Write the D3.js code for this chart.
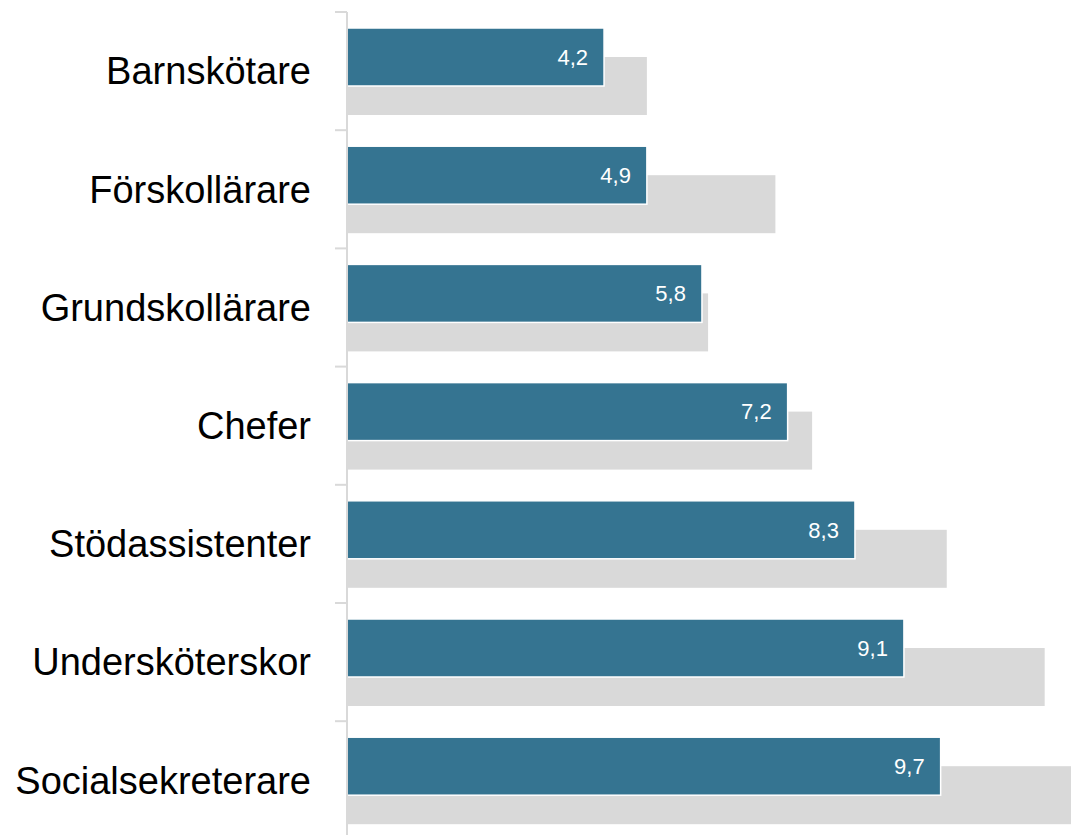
<!DOCTYPE html>
<html>
<head>
<meta charset="utf-8">
<script src="https://cdn.jsdelivr.net/npm/d3@7"></script>
<style>
  body { margin: 0; background: #fff; }
  svg { display: block; }
</style>
</head>
<body>
<svg id="chart"></svg>
<script>
const categories = ["Barnskötare", "Förskollärare", "Grundskollärare", "Chefer", "Stödassistenter", "Undersköterskor", "Socialsekreterare"];
const mainValues = [4.2, 4.9, 5.8, 7.2, 8.3, 9.1, 9.7];
const compareValues = [4.9, 7.0, 5.9, 7.6, 9.8, 11.4, 12.3];

const width = 1071, height = 835;
const axisX = 347;
const bandTop = 12, bandStep = 118.2;

const svg = d3.select("#chart")
    .attr("width", width)
    .attr("height", height);

let x = d3.scaleLinear()
    .domain([0, 10])
    .range([axisX, axisX + 612]);

let y = d3.scaleBand()
    .domain(categories)
    .range([bandTop, bandTop + bandStep * categories.length])
    .padding(0);

const barH = 58;

// grey comparison bars (behind, shifted down)
svg.append("g")
    .selectAll("rect")
    .data(categories)
    .join("rect")
    .attr("x", x(0))
    .attr("y", d => y(d) + 45)
    .attr("width", (d, i) => x(compareValues[i]) - x(0))
    .attr("height", barH)
    .attr("fill", "#d9d9d9");

// main bars
svg.append("g")
    .selectAll("rect")
    .data(categories)
    .join("rect")
    .attr("x", x(0))
    .attr("y", d => y(d) + 16)
    .attr("width", (d, i) => x(mainValues[i]) - x(0))
    .attr("height", barH)
    .attr("fill", "#357491")
    .attr("stroke", "#fff")
    .attr("stroke-width", 1.5);

// value labels
svg.append("g")
    .selectAll("text")
    .data(categories)
    .join("text")
    .attr("x", (d, i) => x(mainValues[i]) - 16)
    .attr("y", d => y(d) + 16 + barH / 2)
    .attr("dy", "0.35em")
    .attr("text-anchor", "end")
    .attr("fill", "#fff")
    .style("font-family", "'Liberation Sans', Arial, sans-serif")
    .style("font-size", "22px")
    .text((d, i) => d3.format(".1f")(mainValues[i]).replace(".", ","));

// axis line + tick marks at band edges
svg.append("line")
    .attr("x1", axisX).attr("x2", axisX)
    .attr("y1", bandTop).attr("y2", height)
    .attr("stroke", "#d9d9d9")
    .attr("stroke-width", 2);

svg.append("g")
    .selectAll("line")
    .data(categories)
    .join("line")
    .attr("x1", axisX - 12).attr("x2", axisX)
    .attr("y1", d => y(d)).attr("y2", d => y(d))
    .attr("stroke", "#d9d9d9")
    .attr("stroke-width", 2);

// category labels
svg.append("g")
    .selectAll("text")
    .data(categories)
    .join("text")
    .attr("x", 311)
    .attr("y", d => y(d) + y.bandwidth() / 2)
    .attr("dy", "0.35em")
    .attr("text-anchor", "end")
    .attr("fill", "#000")
    .style("font-family", "'Liberation Sans', Arial, sans-serif")
    .style("font-size", "38px")
    .text(d => d);
</script>
</body>
</html>
